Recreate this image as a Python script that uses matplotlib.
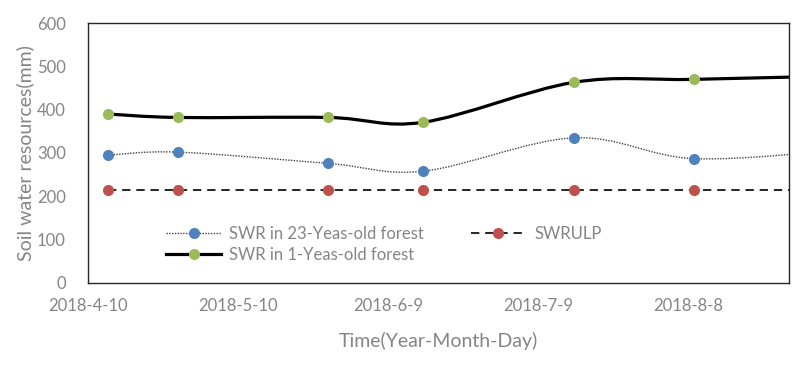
import datetime as dt
import numpy as np
import matplotlib
matplotlib.use("Agg")
import matplotlib.pyplot as plt
import matplotlib.dates as mdates
from matplotlib.path import Path
from matplotlib.patches import PathPatch
from matplotlib.lines import Line2D

plt.rcParams['font.family'] = ['Lato', 'DejaVu Sans']

# sampling dates (last one lies past the axis end and gets clipped)
dates = [dt.date(2018, 4, 14), dt.date(2018, 4, 28), dt.date(2018, 5, 28),
         dt.date(2018, 6, 16), dt.date(2018, 7, 16), dt.date(2018, 8, 9),
         dt.date(2018, 9, 8)]
swr_23 = [295, 302, 276, 258, 335, 287, 307]
swr_ulp = [215, 215, 215, 215, 215, 215, 215]
swr_1 = [390, 382, 382, 371, 463, 470, 478]

tick_dates = [dt.date(2018, 4, 10), dt.date(2018, 5, 10), dt.date(2018, 6, 9),
              dt.date(2018, 7, 9), dt.date(2018, 8, 8)]
tick_labels = ['2018-4-10', '2018-5-10', '2018-6-9', '2018-7-9', '2018-8-8']

blue = '#4f81bd'
red = '#c0504d'
green = '#9bbb59'
grey = '#858585'


def smooth_path(xs, ys):
    # excel style smoothed line: catmull-rom as cubic bezier segments
    x = list(mdates.date2num(xs))
    y = list(ys)
    px = [x[0]] + x + [x[-1]]
    py = [y[0]] + y + [y[-1]]
    verts = [(x[0], y[0])]
    codes = [Path.MOVETO]
    for i in range(1, len(px) - 2):
        c1 = (px[i] + (px[i + 1] - px[i - 1]) / 6, py[i] + (py[i + 1] - py[i - 1]) / 6)
        c2 = (px[i + 1] - (px[i + 2] - px[i]) / 6, py[i + 1] - (py[i + 2] - py[i]) / 6)
        verts += [c1, c2, (px[i + 1], py[i + 1])]
        codes += [Path.CURVE4] * 3
    return Path(verts, codes)


fig = plt.figure(figsize=(8, 3.66), dpi=100)
ax = fig.add_axes([0.11, 0.227, 0.876, 0.71])

ax.add_patch(PathPatch(smooth_path(dates, swr_23), fill=False, color='#404040',
                       lw=1.0, ls=(0, (1, 1))))
ax.plot(dates, swr_ulp, color='black', lw=1.2, ls=(0, (5, 3.5)))
ax.add_patch(PathPatch(smooth_path(dates, swr_1), fill=False, color='black', lw=2.3))

ax.plot(dates, swr_23, 'o', color=blue, ms=8, mew=0)
ax.plot(dates, swr_ulp, 'o', color=red, ms=8, mew=0)
ax.plot(dates, swr_1, 'o', color=green, ms=8, mew=0)

ax.set_xlim(dt.date(2018, 4, 10), dt.date(2018, 8, 28))
ax.set_ylim(0, 600)
ax.set_yticks(range(0, 601, 100))
ax.set_xticks(tick_dates)
ax.set_xticklabels(tick_labels)
ax.tick_params(length=0, labelsize=12, labelcolor=grey)
ax.tick_params(axis='y', pad=16)
ax.tick_params(axis='x', pad=11)
for s in ax.spines.values():
    s.set_color('#262626')
    s.set_linewidth(1.0)

ax.set_ylabel('Soil water resources(mm)', fontsize=14, color=grey, labelpad=2)
ax.set_xlabel('Time(Year-Month-Day)', fontsize=14, color=grey, labelpad=13)

handles = [
    Line2D([], [], color='#404040', lw=1.0, ls=(0, (1, 1)), marker='o', ms=8,
           mfc=blue, mec=blue, mew=0),
    Line2D([], [], color='black', lw=2.3, marker='o', ms=8, mfc=green, mec=green, mew=0),
    Line2D([], [], color='black', lw=1.2, ls=(0, (5, 3.5)), marker='o', ms=8,
           mfc=red, mec=red, mew=0),
]
labels = ['SWR in 23-Yeas-old forest', 'SWR in 1-Yeas-old forest', 'SWRULP']
leg = ax.legend(handles, labels, ncol=2, frameon=False, loc='lower left',
                bbox_to_anchor=(0.09, 0.02), fontsize=12, handlelength=3.3,
                columnspacing=2.8, labelspacing=0.3, handletextpad=0.5)
for t in leg.get_texts():
    t.set_color(grey)

fig.savefig('out.png', dpi=100)
